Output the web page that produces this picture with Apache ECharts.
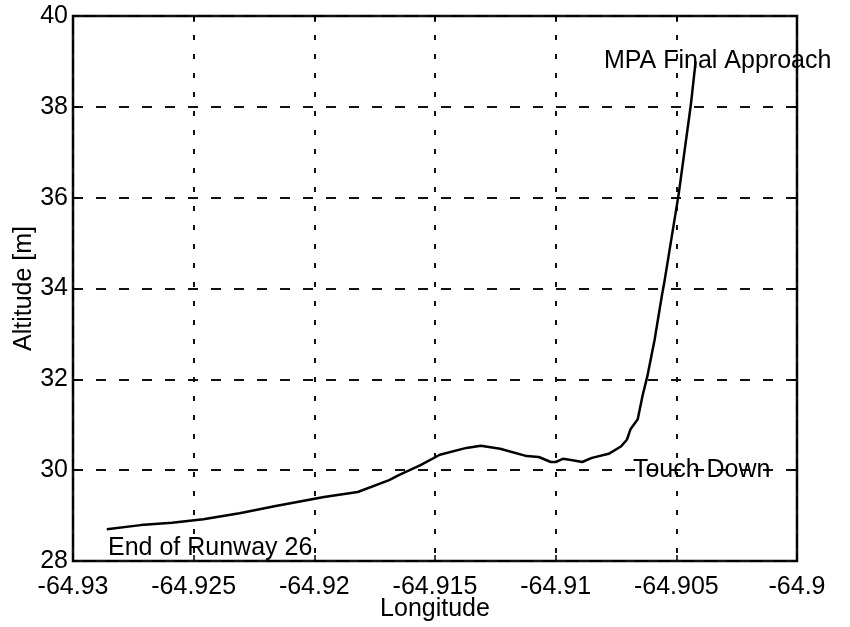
<!DOCTYPE html>
<html>
<head>
<meta charset="utf-8">
<script src="https://cdn.jsdelivr.net/npm/echarts@6/dist/echarts.min.js"></script>
<style>
  html, body { margin: 0; padding: 0; background: #fff; }
  #chart { width: 850px; height: 627px; }
</style>
</head>
<body>
<div id="chart"></div>
<script>
// Aircraft ground track near the runway: altitude against longitude
const longitude = [
  -64.9286, -64.9272, -64.9259, -64.9246, -64.9231, -64.9216, -64.9196, -64.9182,
  -64.9169, -64.9165, -64.9156, -64.9148, -64.9137, -64.9131, -64.9123, -64.9112,
  -64.9107, -64.9102, -64.9100, -64.9097, -64.9093, -64.9089, -64.9085, -64.9078,
  -64.9073, -64.90705, -64.9069, -64.9066, -64.9064, -64.9062, -64.9059, -64.9056,
  -64.9055, -64.9049, -64.9044, -64.9042
];
const altitude = [
  28.70, 28.79, 28.84, 28.92, 29.05, 29.21, 29.41, 29.52,
  29.78, 29.89, 30.11, 30.34, 30.49, 30.54, 30.47, 30.31,
  30.29, 30.18, 30.18, 30.25, 30.22, 30.18, 30.27, 30.36,
  30.52, 30.67, 30.90, 31.12, 31.64, 32.07, 32.87, 33.84,
  34.13, 36.09, 38.04, 39.00
];

// Annotations placed in data coordinates
const noteText = ['MPA Final Approach', 'Touch Down', 'End of Runway 26'];
const noteLon  = [-64.9080, -64.9068, -64.92855];
const noteAlt  = [39.0, 30.0, 28.29];

// Axis ticks and their labels
const xTicks = [-64.93, -64.925, -64.92, -64.915, -64.91, -64.905, -64.9];
const xTickLabels = ['-64.93', '-64.925', '-64.92', '-64.915', '-64.91', '-64.905', '-64.9'];
const yTicks = [28, 30, 32, 34, 36, 38, 40];
const yTickLabels = ['28', '30', '32', '34', '36', '38', '40'];

const FONT = "'Liberation Sans', Arial, Helvetica, sans-serif";
const FS = 25;

const xMin = xTicks[0], xMax = xTicks[xTicks.length - 1], xStep = 0.005;
const yMin = yTicks[0], yMax = yTicks[yTicks.length - 1], yStep = 2;

function xLabel(v) {
  const i = Math.round((v - xMin) / xStep);
  return xTickLabels[i] !== undefined ? xTickLabels[i] : '';
}
function yLabel(v) {
  const i = Math.round((v - yMin) / yStep);
  return yTickLabels[i] !== undefined ? yTickLabels[i] : '';
}

const chart = echarts.init(document.getElementById('chart'), null, { renderer: 'canvas' });

const baseX = {
  type: 'value', min: xMin, max: xMax, interval: xStep,
  axisLine: { show: false },
  axisTick: { show: true, inside: true, length: 6, lineStyle: { color: '#000', width: 1.5 } }
};
const baseY = {
  type: 'value', min: yMin, max: yMax, interval: yStep,
  axisLine: { show: false },
  axisTick: { show: true, inside: true, length: 6, lineStyle: { color: '#000', width: 1.5 } }
};

chart.setOption({
  animation: false,
  backgroundColor: '#fff',
  grid: {
    left: 73, right: 53, top: 16, bottom: 66,
    containLabel: false, outerBoundsMode: 'none',
    show: true, borderColor: '#000', borderWidth: 2.5, backgroundColor: 'transparent'
  },
  xAxis: [
    Object.assign({}, baseX, {
      position: 'bottom',
      name: 'Longitude', nameLocation: 'middle', nameGap: 36, nameMoveOverlap: false,
      nameTextStyle: { color: '#000', fontFamily: FONT, fontSize: FS },
      axisLabel: { color: '#000', fontFamily: FONT, fontSize: FS, margin: 14, formatter: xLabel },
      splitLine: { show: true, lineStyle: { color: '#111', width: 2, type: [5, 14] } }
    }),
    Object.assign({}, baseX, {
      position: 'top',
      axisLabel: { show: false },
      splitLine: { show: false }
    })
  ],
  yAxis: [
    Object.assign({}, baseY, {
      position: 'left',
      name: 'Altitude [m]', nameLocation: 'middle', nameGap: 36, nameMoveOverlap: false,
      nameTextStyle: { color: '#000', fontFamily: FONT, fontSize: FS },
      axisLabel: { color: '#000', fontFamily: FONT, fontSize: FS, margin: 5, formatter: yLabel },
      splitLine: { show: true, lineStyle: { color: '#111', width: 2, type: [10, 13] } }
    }),
    Object.assign({}, baseY, {
      position: 'right',
      axisLabel: { show: false },
      splitLine: { show: false }
    })
  ],
  series: [
    {
      type: 'line',
      data: longitude.map((x, i) => [x, altitude[i]]),
      showSymbol: false,
      symbol: 'none',
      smooth: false,
      lineStyle: { color: '#000', width: 2.5 },
      z: 5
    },
    {
      type: 'scatter',
      data: noteText.map((t, i) => ({ name: t, value: [noteLon[i], noteAlt[i]] })),
      symbolSize: 0,
      clip: false,
      itemStyle: { opacity: 1, color: '#000' },
      label: {
        show: true, position: 'right', distance: 0, opacity: 1,
        formatter: p => p.name,
        color: '#000', fontFamily: FONT, fontSize: FS,
        align: 'left', verticalAlign: 'middle'
      },
      z: 6
    }
  ]
});
</script>
</body>
</html>
